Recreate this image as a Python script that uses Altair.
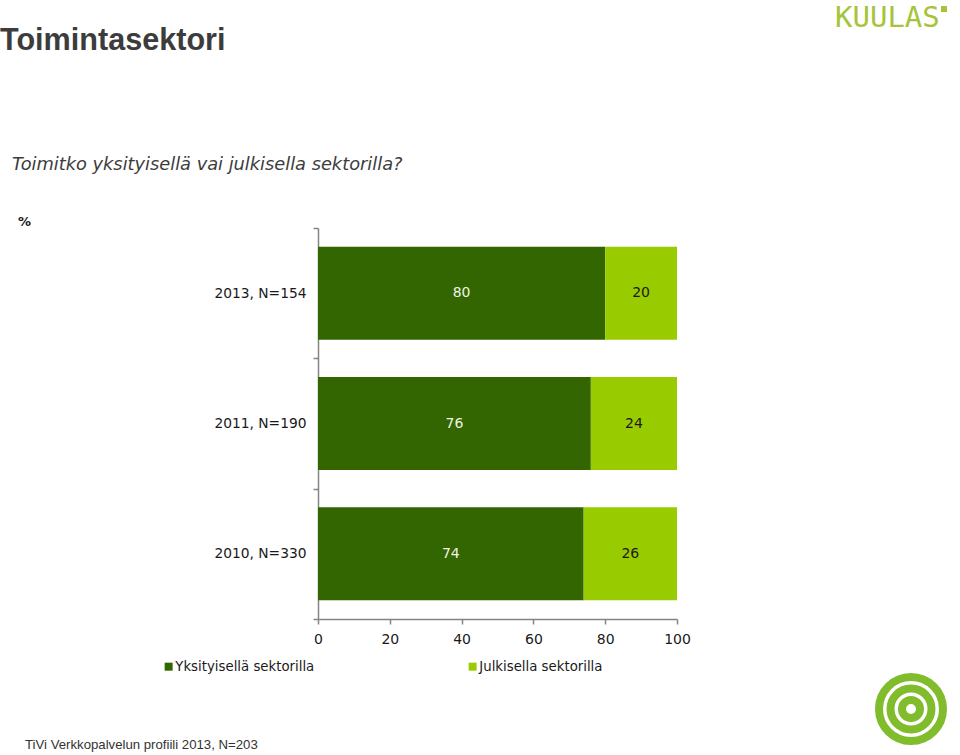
import altair as alt
import pandas as pd

# ---- data ----
years = ["2013, N=154", "2011, N=190", "2010, N=330"]
sectors = ["Yksityisellä sektorilla", "Julkisella sektorilla"]
private_vals = [80, 76, 74]
public_vals = [20, 24, 26]
colors = ["#336600", "#99cc00"]

rows = []
for i, y in enumerate(years):
    rows.append({"year": y, "sector": sectors[0], "value": private_vals[i], "ord": 0})
    rows.append({"year": y, "sector": sectors[1], "value": public_vals[i], "ord": 1})
df = pd.DataFrame(rows)
one = pd.DataFrame({"a": [0]})

FONT = "DejaVu Sans"
DARK = "#1a1a1a"
AXIS = "#858585"

yscale = alt.Scale(domain=years, paddingInner=0, paddingOuter=0)
xscale = alt.Scale(domain=[0, 100], nice=False)

bars = alt.Chart(df).mark_bar(height={"band": 0.713}).encode(
    y=alt.Y("year:N", sort=years, scale=yscale, title=None,
            axis=alt.Axis(tickBand="extent", tickSize=5, labelPadding=7,
                          domainColor=AXIS, tickColor=AXIS, domainWidth=1.5,
                          tickWidth=1.5,
                          labelFont=FONT, labelFontSize=13.8, labelColor=DARK,
                          grid=False)),
    x=alt.X("value:Q", stack="zero", scale=xscale, title=None,
            axis=alt.Axis(values=[0, 20, 40, 60, 80, 100], tickSize=5,
                          labelPadding=8, labelFlush=False,
                          domainColor=AXIS, tickColor=AXIS,
                          domainWidth=1.5, tickWidth=1.5, labelFont=FONT,
                          labelFontSize=14, labelColor=DARK, grid=False)),
    color=alt.Color("sector:N", scale=alt.Scale(domain=sectors, range=colors),
                    legend=alt.Legend(orient="none", legendX=-156, legendY=432,
                                      direction="horizontal", columns=2,
                                      columnPadding=151, title=None,
                                      symbolType="square", symbolSize=64,
                                      symbolStrokeWidth=0, labelFont=FONT,
                                      labelFontSize=13.3, labelColor=DARK,
                                      labelOffset=0)),
    order=alt.Order("ord:Q"),
)

labels = alt.Chart(df).transform_stack(
    stack="value", groupby=["year"], as_=["x0", "x1"],
    sort=[alt.SortField("ord", order="ascending")]
).transform_calculate(mid="(datum.x0 + datum.x1) / 2").mark_text(
    font=FONT, fontSize=14
).encode(
    x=alt.X("mid:Q", scale=xscale),
    y=alt.Y("year:N", sort=years, scale=yscale),
    text=alt.Text("value:Q"),
    color=alt.condition("datum.ord == 0", alt.value("#eef3e2"), alt.value(DARK)),
)

def txt(text, x, y, size, color, font, weight="normal", style="normal", align="left"):
    return alt.Chart(one).mark_text(
        text=text, font=font, fontSize=size, fontWeight=weight, fontStyle=style,
        color=color, align=align, baseline="alphabetic"
    ).encode(x=alt.value(x), y=alt.value(y))

title = txt("Toimintasektori", -318, -178, 30.6, "#3c3c3c", "Liberation Sans", weight="bold")
subtitle = txt("Toimitko yksityisellä vai julkisella sektorilla?", -306, -58, 17.8,
               "#3c3c3c", FONT, style="italic")
pct = txt("%", -300, -2, 13, DARK, FONT, weight="bold")
footer = txt("TiVi Verkkopalvelun profiili 2013, N=203", -293, 521, 13.2, "#333333",
             "Liberation Sans")
kuulas = txt("KUULAS", 517, -201, 29, "#a6c43a", "DejaVu Sans Mono")
kdot = alt.Chart(one).mark_square(color="#a6c43a", size=36, opacity=1).encode(
    x=alt.value(626), y=alt.value(-219))

rings = []
for d in [64, 41, 18]:
    rings.append(alt.Chart(one).mark_point(
        shape="circle", filled=False, size=d * d, strokeWidth=8,
        color="#80bc2c", opacity=1
    ).encode(x=alt.value(593), y=alt.value(481)))

chart = alt.layer(bars, labels, title, subtitle, pct, footer, kuulas, kdot, *rings).properties(
    width=359, height=391,
    autosize=alt.AutoSizeParams(type="none"),
    padding={"left": 318, "top": 228, "right": 283, "bottom": 136},
    background="white",
).configure_view(stroke=None)

chart.save("out.html", embed_options={"renderer": "svg", "actions": False})
